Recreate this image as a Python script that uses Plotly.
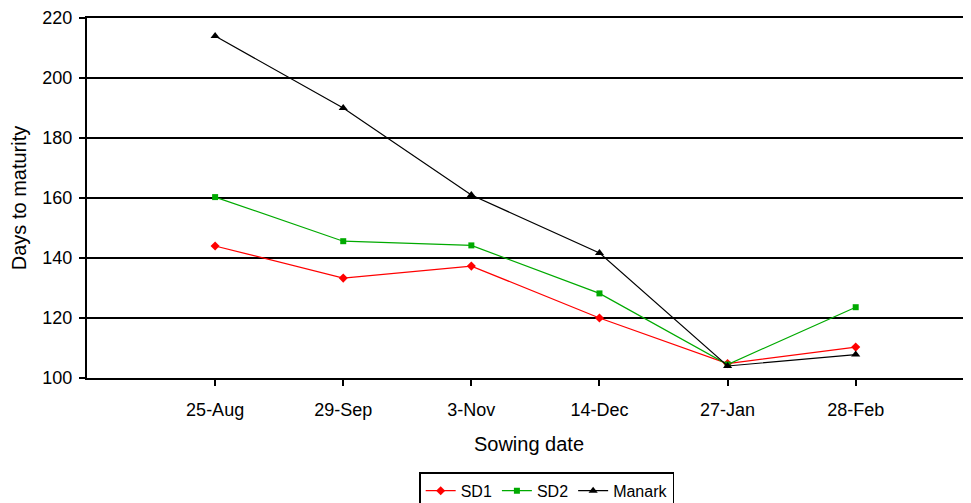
import plotly.graph_objects as go

categories = ["25-Aug", "29-Sep", "3-Nov", "14-Dec", "27-Jan", "28-Feb"]
sd1 = [144.0, 133.3, 137.3, 120.0, 104.8, 110.3]
sd2 = [160.3, 145.6, 144.2, 128.2, 104.5, 123.6]
manark = [214.0, 190.0, 161.0, 141.7, 104.0, 107.8]

fig = go.Figure()
fig.add_trace(go.Scatter(x=categories, y=sd1, name="SD1", mode="lines+markers",
                         line=dict(color="#ff0000", width=1.2),
                         marker=dict(symbol="diamond", size=7, color="#ff0000")))
fig.add_trace(go.Scatter(x=categories, y=sd2, name="SD2", mode="lines+markers",
                         line=dict(color="#00aa00", width=1.2),
                         marker=dict(symbol="square", size=6, color="#00aa00")))
fig.add_trace(go.Scatter(x=categories, y=manark, name="Manark", mode="lines+markers",
                         line=dict(color="#000000", width=1.2),
                         marker=dict(symbol="triangle-up", size=8, color="#000000")))

fig.update_layout(
    width=971, height=525,
    margin=dict(l=79, r=8, t=10, b=155),
    paper_bgcolor="white", plot_bgcolor="white",
    font=dict(family="Liberation Sans, Arial, sans-serif", size=18, color="black"),
    showlegend=True,
    legend=dict(orientation="h", x=0.52, xanchor="center", y=-0.262, yanchor="top",
                bordercolor="black", borderwidth=1.5, font=dict(size=16),
                tracegroupgap=0),
    xaxis=dict(type="category", range=[-1, 5.9], showgrid=False, automargin=False,
               showline=True, linecolor="black", linewidth=2, mirror=True,
               ticks="outside", ticklen=6, tickcolor="black", tickwidth=1.5,
               ticklabelstandoff=8,
               title=dict(text="Sowing date", font=dict(size=20), standoff=18),
               zeroline=False),
    yaxis=dict(range=[100, 220], dtick=20, showgrid=True, gridcolor="black", gridwidth=1.5,
               showline=True, linecolor="black", linewidth=2, automargin=False,
               ticks="outside", ticklen=6, tickcolor="black", tickwidth=1.5,
               ticklabelstandoff=3,
               title=dict(text="Days to maturity", font=dict(size=20), standoff=16),
               zeroline=False),
)

fig.write_html("out.html")
